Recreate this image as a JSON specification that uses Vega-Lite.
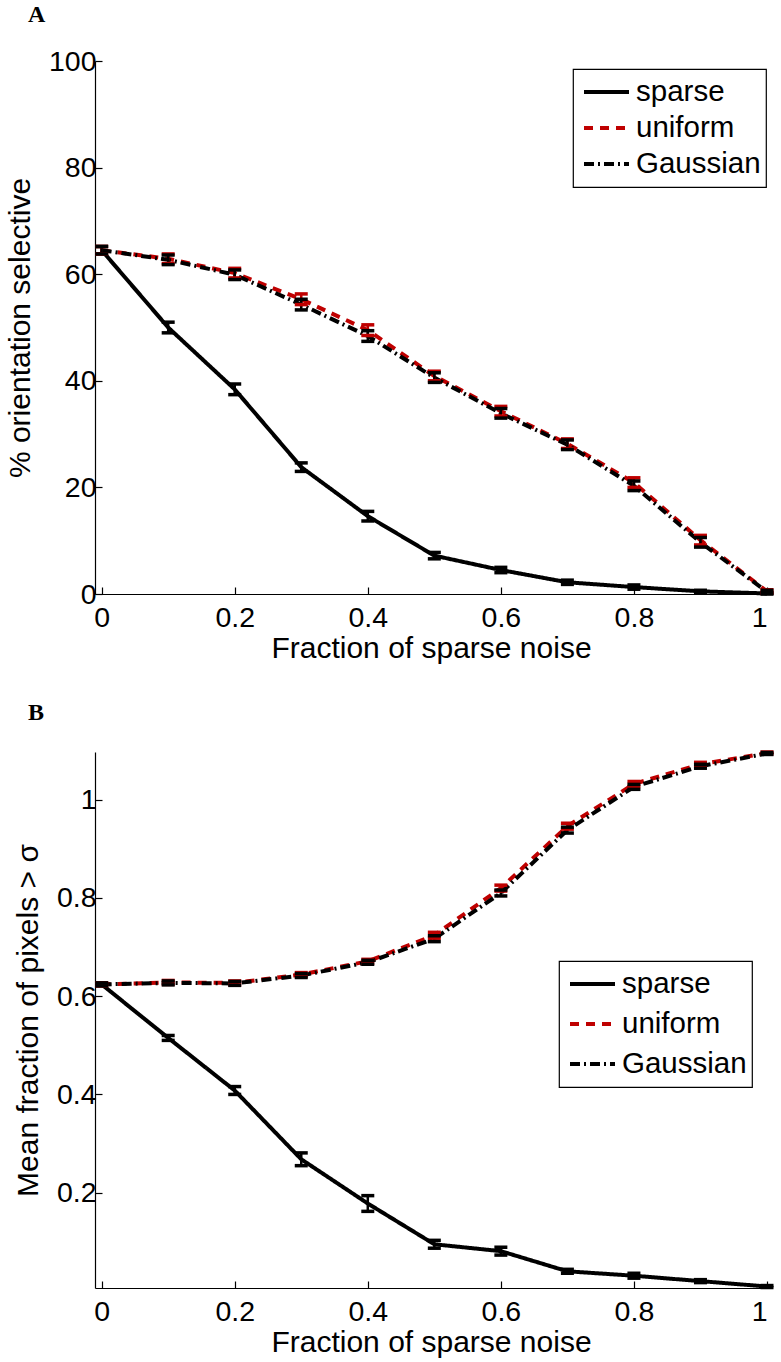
{
  "$schema": "https://vega.github.io/schema/vega-lite/v6.json",
  "background": "white",
  "padding": {"left": 5, "top": 3, "right": 10, "bottom": 0},
  "datasets": {
    "a": [
      {"x": 0, "y": 64.5, "lo": 63.8, "hi": 65.2, "s": "sparse"},
      {"x": 0.1, "y": 50.0, "lo": 49.0, "hi": 51.0, "s": "sparse"},
      {"x": 0.2, "y": 38.4, "lo": 37.4, "hi": 39.4, "s": "sparse"},
      {"x": 0.3, "y": 23.8, "lo": 23.0, "hi": 24.6, "s": "sparse"},
      {"x": 0.4, "y": 14.6, "lo": 13.7, "hi": 15.5, "s": "sparse"},
      {"x": 0.5, "y": 7.2, "lo": 6.6, "hi": 7.8, "s": "sparse"},
      {"x": 0.6, "y": 4.5, "lo": 4.0, "hi": 5.0, "s": "sparse"},
      {"x": 0.7, "y": 2.2, "lo": 1.8, "hi": 2.6, "s": "sparse"},
      {"x": 0.8, "y": 1.3, "lo": 0.9, "hi": 1.7, "s": "sparse"},
      {"x": 0.9, "y": 0.5, "lo": 0.3, "hi": 0.7, "s": "sparse"},
      {"x": 1.0, "y": 0.1, "lo": 0.0, "hi": 0.2, "s": "sparse"},
      {"x": 0, "y": 64.5, "lo": 63.8, "hi": 65.2, "s": "uniform"},
      {"x": 0.1, "y": 62.9, "lo": 62.0, "hi": 63.8, "s": "uniform"},
      {"x": 0.2, "y": 60.2, "lo": 59.3, "hi": 61.1, "s": "uniform"},
      {"x": 0.3, "y": 55.3, "lo": 54.3, "hi": 56.3, "s": "uniform"},
      {"x": 0.4, "y": 49.5, "lo": 48.5, "hi": 50.5, "s": "uniform"},
      {"x": 0.5, "y": 40.9, "lo": 40.0, "hi": 41.8, "s": "uniform"},
      {"x": 0.6, "y": 34.3, "lo": 33.4, "hi": 35.2, "s": "uniform"},
      {"x": 0.7, "y": 28.2, "lo": 27.3, "hi": 29.1, "s": "uniform"},
      {"x": 0.8, "y": 20.9, "lo": 20.0, "hi": 21.8, "s": "uniform"},
      {"x": 0.9, "y": 10.1, "lo": 9.2, "hi": 11.0, "s": "uniform"},
      {"x": 1.0, "y": 0.5, "lo": 0.2, "hi": 0.8, "s": "uniform"},
      {"x": 0, "y": 64.5, "lo": 63.8, "hi": 65.2, "s": "Gaussian"},
      {"x": 0.1, "y": 62.7, "lo": 61.8, "hi": 63.6, "s": "Gaussian"},
      {"x": 0.2, "y": 59.9, "lo": 59.0, "hi": 60.8, "s": "Gaussian"},
      {"x": 0.3, "y": 54.3, "lo": 53.3, "hi": 55.3, "s": "Gaussian"},
      {"x": 0.4, "y": 48.4, "lo": 47.4, "hi": 49.4, "s": "Gaussian"},
      {"x": 0.5, "y": 40.6, "lo": 39.7, "hi": 41.5, "s": "Gaussian"},
      {"x": 0.6, "y": 33.9, "lo": 33.0, "hi": 34.8, "s": "Gaussian"},
      {"x": 0.7, "y": 28.0, "lo": 27.1, "hi": 28.9, "s": "Gaussian"},
      {"x": 0.8, "y": 20.3, "lo": 19.4, "hi": 21.2, "s": "Gaussian"},
      {"x": 0.9, "y": 9.7, "lo": 8.8, "hi": 10.6, "s": "Gaussian"},
      {"x": 1.0, "y": 0.4, "lo": 0.1, "hi": 0.7, "s": "Gaussian"}
    ],
    "b": [
      {"x": 0, "y": 0.624, "lo": 0.621, "hi": 0.627, "s": "sparse"},
      {"x": 0.1, "y": 0.515, "lo": 0.510, "hi": 0.520, "s": "sparse"},
      {"x": 0.2, "y": 0.408, "lo": 0.400, "hi": 0.416, "s": "sparse"},
      {"x": 0.3, "y": 0.268, "lo": 0.255, "hi": 0.281, "s": "sparse"},
      {"x": 0.4, "y": 0.178, "lo": 0.162, "hi": 0.194, "s": "sparse"},
      {"x": 0.5, "y": 0.095, "lo": 0.087, "hi": 0.103, "s": "sparse"},
      {"x": 0.6, "y": 0.081, "lo": 0.073, "hi": 0.089, "s": "sparse"},
      {"x": 0.7, "y": 0.040, "lo": 0.036, "hi": 0.044, "s": "sparse"},
      {"x": 0.8, "y": 0.031, "lo": 0.026, "hi": 0.036, "s": "sparse"},
      {"x": 0.9, "y": 0.020, "lo": 0.017, "hi": 0.023, "s": "sparse"},
      {"x": 1.0, "y": 0.009, "lo": 0.007, "hi": 0.011, "s": "sparse"},
      {"x": 0, "y": 0.624, "lo": 0.621, "hi": 0.627, "s": "uniform"},
      {"x": 0.1, "y": 0.628, "lo": 0.624, "hi": 0.632, "s": "uniform"},
      {"x": 0.2, "y": 0.627, "lo": 0.623, "hi": 0.631, "s": "uniform"},
      {"x": 0.3, "y": 0.644, "lo": 0.640, "hi": 0.648, "s": "uniform"},
      {"x": 0.4, "y": 0.671, "lo": 0.667, "hi": 0.675, "s": "uniform"},
      {"x": 0.5, "y": 0.724, "lo": 0.718, "hi": 0.730, "s": "uniform"},
      {"x": 0.6, "y": 0.820, "lo": 0.814, "hi": 0.826, "s": "uniform"},
      {"x": 0.7, "y": 0.946, "lo": 0.940, "hi": 0.952, "s": "uniform"},
      {"x": 0.8, "y": 1.032, "lo": 1.027, "hi": 1.037, "s": "uniform"},
      {"x": 0.9, "y": 1.072, "lo": 1.068, "hi": 1.076, "s": "uniform"},
      {"x": 1.0, "y": 1.095, "lo": 1.093, "hi": 1.097, "s": "uniform"},
      {"x": 0, "y": 0.624, "lo": 0.621, "hi": 0.627, "s": "Gaussian"},
      {"x": 0.1, "y": 0.627, "lo": 0.623, "hi": 0.631, "s": "Gaussian"},
      {"x": 0.2, "y": 0.626, "lo": 0.622, "hi": 0.630, "s": "Gaussian"},
      {"x": 0.3, "y": 0.642, "lo": 0.638, "hi": 0.646, "s": "Gaussian"},
      {"x": 0.4, "y": 0.669, "lo": 0.665, "hi": 0.673, "s": "Gaussian"},
      {"x": 0.5, "y": 0.717, "lo": 0.711, "hi": 0.723, "s": "Gaussian"},
      {"x": 0.6, "y": 0.810, "lo": 0.804, "hi": 0.816, "s": "Gaussian"},
      {"x": 0.7, "y": 0.938, "lo": 0.932, "hi": 0.944, "s": "Gaussian"},
      {"x": 0.8, "y": 1.026, "lo": 1.021, "hi": 1.031, "s": "Gaussian"},
      {"x": 0.9, "y": 1.068, "lo": 1.064, "hi": 1.072, "s": "Gaussian"},
      {"x": 1.0, "y": 1.094, "lo": 1.092, "hi": 1.096, "s": "Gaussian"}
    ]
  },
  "vconcat": [
    {
      "width": 672,
      "height": 533,
      "title": {"text": "A", "anchor": "start", "frame": "group", "dx": -67, "offset": 20, "font": "Liberation Serif", "fontSize": 24, "fontWeight": "bold", "color": "black"},
      "data": {"name": "a"},
      "encoding": {
        "x": {"field": "x", "type": "quantitative", "scale": {"domain": [-0.01, 1], "nice": false, "zero": false},
              "axis": {"values": [0, 0.2, 0.4, 0.6, 0.8, 1], "format": "~g", "title": "Fraction of sparse noise", "labelPadding": 16, "titlePadding": 2}}
      },
      "layer": [
        {
          "mark": {"type": "line", "clip": false},
          "encoding": {
            "y": {"field": "y", "type": "quantitative", "scale": {"domain": [0, 100], "nice": false},
                  "axis": {"values": [0, 20, 40, 60, 80, 100], "title": "% orientation selective", "labelPadding": 6, "titlePadding": 13}},
            "color": {"field": "s", "type": "nominal", "scale": {"domain": ["sparse", "uniform", "Gaussian"], "range": ["black", "#bf0000", "black"]},
                      "legend": {"orient": "none", "legendX": 478, "legendY": 8, "title": null, "rowPadding": 0}},
            "strokeDash": {"field": "s", "type": "nominal", "scale": {"domain": ["sparse", "uniform", "Gaussian"], "range": [[1, 0], [9, 7], [10, 4, 2, 4]]},
                      "legend": {"orient": "none", "legendX": 478, "legendY": 8, "title": null, "rowPadding": 0}},
            "strokeWidth": {"field": "s", "type": "nominal", "scale": {"domain": ["sparse", "uniform", "Gaussian"], "range": [4, 4, 3.5]},
                      "legend": {"orient": "none", "legendX": 478, "legendY": 8, "title": null, "rowPadding": 0}}
          }
        },
        {
          "mark": {"type": "rule", "strokeWidth": 2.5},
          "encoding": {
            "y": {"field": "lo", "type": "quantitative"},
            "y2": {"field": "hi"},
            "color": {"condition": {"test": "datum.s === 'uniform'", "value": "#bf0000"}, "value": "black"}
          }
        },
        {
          "transform": [{"fold": ["lo", "hi"], "as": ["bound", "v"]}],
          "mark": {"type": "tick", "orient": "horizontal", "size": 13, "thickness": 3.5, "opacity": 1},
          "encoding": {
            "y": {"field": "v", "type": "quantitative"},
            "color": {"condition": {"test": "datum.s === 'uniform'", "value": "#bf0000"}, "value": "black"}
          }
        }
      ]
    },
    {
      "width": 672,
      "height": 536,
      "title": {"text": "B", "anchor": "start", "frame": "group", "dx": -67, "offset": 20, "font": "Liberation Serif", "fontSize": 24, "fontWeight": "bold", "color": "black"},
      "data": {"name": "b"},
      "encoding": {
        "x": {"field": "x", "type": "quantitative", "scale": {"domain": [-0.01, 1], "nice": false, "zero": false},
              "axis": {"values": [0, 0.2, 0.4, 0.6, 0.8, 1], "format": "~g", "title": "Fraction of sparse noise", "labelPadding": 16, "titlePadding": 2}}
      },
      "layer": [
        {
          "mark": {"type": "line", "clip": false},
          "encoding": {
            "y": {"field": "y", "type": "quantitative", "scale": {"domain": [0.006, 1.097], "nice": false, "zero": false},
                  "axis": {"values": [0.2, 0.4, 0.6, 0.8, 1], "format": "~g", "title": "Mean fraction of pixels > σ", "labelPadding": 6, "titlePadding": 13}},
            "color": {"field": "s", "type": "nominal", "scale": {"domain": ["sparse", "uniform", "Gaussian"], "range": ["black", "#bf0000", "black"]},
                      "legend": {"orient": "none", "legendX": 464, "legendY": 209, "title": null, "rowPadding": 4}},
            "strokeDash": {"field": "s", "type": "nominal", "scale": {"domain": ["sparse", "uniform", "Gaussian"], "range": [[1, 0], [9, 7], [10, 4, 2, 4]]},
                      "legend": {"orient": "none", "legendX": 464, "legendY": 209, "title": null, "rowPadding": 4}},
            "strokeWidth": {"field": "s", "type": "nominal", "scale": {"domain": ["sparse", "uniform", "Gaussian"], "range": [4, 4, 3.5]},
                      "legend": {"orient": "none", "legendX": 464, "legendY": 209, "title": null, "rowPadding": 4}}
          }
        },
        {
          "mark": {"type": "rule", "strokeWidth": 2.5},
          "encoding": {
            "y": {"field": "lo", "type": "quantitative"},
            "y2": {"field": "hi"},
            "color": {"condition": {"test": "datum.s === 'uniform'", "value": "#bf0000"}, "value": "black"}
          }
        },
        {
          "transform": [{"fold": ["lo", "hi"], "as": ["bound", "v"]}],
          "mark": {"type": "tick", "orient": "horizontal", "size": 13, "thickness": 3.5, "opacity": 1},
          "encoding": {
            "y": {"field": "v", "type": "quantitative"},
            "color": {"condition": {"test": "datum.s === 'uniform'", "value": "#bf0000"}, "value": "black"}
          }
        }
      ]
    }
  ],
  "spacing": 36,
  "resolve": {"scale": {"color": "independent", "strokeDash": "independent", "strokeWidth": "independent", "y": "independent"}, "legend": {"color": "independent", "strokeDash": "independent", "strokeWidth": "independent"}},
  "config": {
    "view": {"stroke": null},
    "font": "Liberation Sans",
    "axis": {"grid": false, "domainColor": "black", "domainWidth": 1.2, "tickColor": "black", "tickWidth": 1.2, "tickSize": -7,
             "labelColor": "black", "titleColor": "black", "labelFont": "Liberation Sans", "titleFont": "Liberation Sans",
             "labelFontSize": 28.5, "titleFontSize": 30, "titleFontWeight": "normal"},
    "legend": {"strokeColor": "black", "fillColor": "white", "padding": 5, "labelFont": "Liberation Sans", "labelFontSize": 29.5,
               "labelColor": "black", "symbolType": "stroke", "symbolSize": 2025, "symbolOffset": 4, "labelOffset": 5, "clipHeight": 36,
               "cornerRadius": 0, "strokeWidth": 1.2}
  }
}
